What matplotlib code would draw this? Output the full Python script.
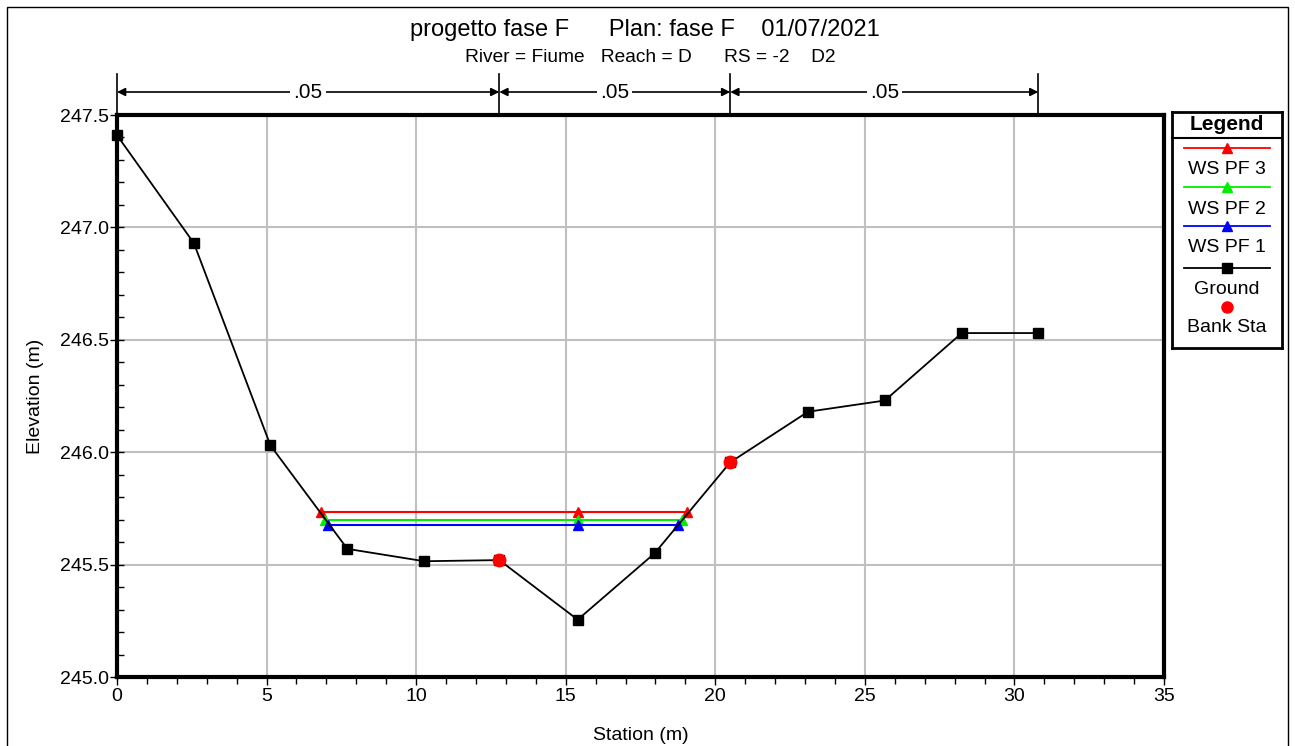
import matplotlib
matplotlib.use("Agg")
import matplotlib.pyplot as plt
from matplotlib.patches import Rectangle
from matplotlib.ticker import MultipleLocator
import matplotlib.transforms as mtransforms

plt.rcParams['font.family'] = ['Liberation Sans', 'DejaVu Sans']

# ---- data ----
station = [0.0, 2.57, 5.13, 7.70, 10.27, 12.78, 15.40, 17.97, 20.50, 23.10, 25.67, 28.24, 30.80]
ground = [247.41, 246.93, 246.03, 245.57, 245.515, 245.52, 245.255, 245.55, 245.955, 246.18, 246.23, 246.53, 246.53]
bank_sta = [12.78, 20.50]
bank_elev = [245.52, 245.955]
ws_names = ["WS PF 3", "WS PF 2", "WS PF 1"]
ws_colors = ["#ff0000", "#00ee00", "#0000ff"]
ws_elev = [245.733, 245.70, 245.675]
ws_left = [6.81, 6.95, 7.06]
ws_right = [19.07, 18.90, 18.77]
ws_mid = 15.40
n_div = [0.0, 12.78, 20.50, 30.80]
n_vals = [".05", ".05", ".05"]

W, H = 1295, 746
fig = plt.figure(figsize=(W / 100, H / 100), dpi=100)

# figure frame
fig.add_artist(Rectangle((7 / W, -0.01), (1288 - 7) / W, 1.01 - 7 / H,
                         transform=fig.transFigure, fill=False, lw=1, ec='black'))

ax = fig.add_axes([117 / W, 1 - 677 / H, 1047 / W, 562 / H])
ax.set_xlim(0, 35)
ax.set_ylim(245.0, 247.5)

ax.grid(True, which='major', color='#c0c0c0', lw=1.5, zorder=0)
for s in ax.spines.values():
    s.set_linewidth(3)
ax.xaxis.set_major_locator(MultipleLocator(5))
ax.xaxis.set_minor_locator(MultipleLocator(1))
ax.yaxis.set_major_locator(MultipleLocator(0.5))
ax.yaxis.set_minor_locator(MultipleLocator(0.1))
ax.yaxis.set_major_formatter(plt.FormatStrFormatter('%.1f'))
ax.tick_params(axis='x', which='major', direction='out', length=6, width=1, labelsize=14, pad=2)
ax.tick_params(axis='x', which='minor', direction='out', length=5, width=1)
ax.tick_params(axis='y', which='major', direction='inout', length=10, width=1, labelsize=14, pad=1)
ax.tick_params(axis='y', which='minor', direction='in', length=5, width=1)

# ground
ax.plot(station, ground, color='black', lw=1.3, marker='s', ms=7, zorder=4, clip_on=False)
# water surfaces
for name, c, e, l, r in zip(ws_names, ws_colors, ws_elev, ws_left, ws_right):
    ax.plot([l, ws_mid, r], [e, e, e], color=c, lw=1.5, marker='^', ms=6.5, zorder=3)
# bank stations
ax.plot(bank_sta, bank_elev, ls='none', marker='o', color='#ff0000', ms=9, zorder=5)

ax.set_xlabel("Station (m)", fontsize=14, labelpad=16)
ax.set_ylabel("Elevation (m)", fontsize=14, labelpad=11)

# Manning n divisions above the plot
trans = mtransforms.blended_transform_factory(ax.transData, ax.transAxes)
y_arrow = (677 - 92) / 562
y_top = (677 - 74) / 562
for xd in n_div:
    ax.plot([xd, xd], [1.0, y_top], transform=trans, color='black', lw=1.2, clip_on=False)
for i, nv in enumerate(n_vals):
    a, b = n_div[i], n_div[i + 1]
    ax.annotate("", xy=(a, y_arrow), xytext=(b, y_arrow), xycoords=trans, textcoords=trans,
                arrowprops=dict(arrowstyle='<|-|>', color='black', lw=1.2, mutation_scale=12,
                                shrinkA=0, shrinkB=0), annotation_clip=False)
    ax.text((a + b) / 2, y_arrow, nv, transform=trans, ha='center', va='center', fontsize=15,
            bbox=dict(boxstyle='square,pad=0.15', fc='white', ec='none'), zorder=6)

# titles
fig.text(645 / W, 1 - 30 / H, "progetto fase F      Plan: fase F    01/07/2021",
         ha='center', va='center', fontsize=17)
fig.text(650 / W, 1 - 58 / H, "River = Fiume   Reach = D      RS = -2    D2",
         ha='center', va='center', fontsize=13.8)

# legend panel
lg = fig.add_axes([1172 / W, 1 - 348 / H, 110 / W, 236 / H])
lg.set_xlim(0, 110)
lg.set_ylim(236, 0)
lg.set_xticks([])
lg.set_yticks([])
for s in lg.spines.values():
    s.set_linewidth(2)
lg.text(55, 13, "Legend", ha='center', va='center', fontsize=15, fontweight='bold')
lg.plot([0, 110], [26, 26], color='black', lw=1.5, clip_on=False)
ys = [36, 75, 114, 156, 195]
labels_y = [58, 97, 135, 177, 216]
entries = [(ws_colors[0], '^', '-', ws_names[0]), (ws_colors[1], '^', '-', ws_names[1]),
           (ws_colors[2], '^', '-', ws_names[2]), ('black', 's', '-', 'Ground'),
           ('#ff0000', 'o', 'none', 'Bank Sta')]
for (c, m, ls, name), yl, yt in zip(entries, ys, labels_y):
    if ls != 'none':
        lg.plot([12, 98], [yl, yl], color=c, lw=1.3)
    lg.plot([55], [yl], marker=m, color=c, ms=8 if m == 'o' else 6.5, ls='none')
    lg.text(55, yt, name, ha='center', va='center', fontsize=14)

fig.savefig("out.png", dpi=100)
